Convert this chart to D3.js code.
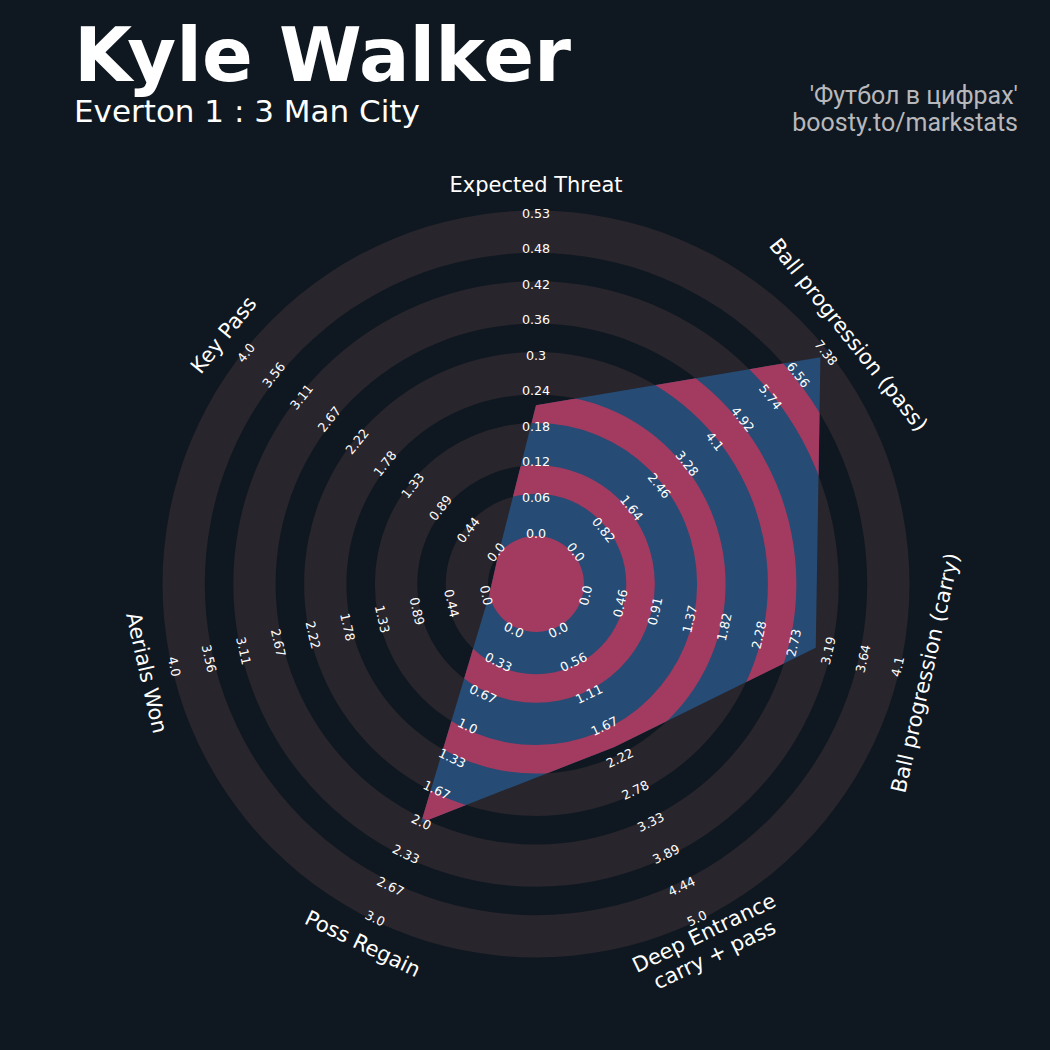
<!DOCTYPE html>
<html><head><meta charset="utf-8">
<script src="https://cdn.jsdelivr.net/npm/d3@7"></script>
<style>html,body{margin:0;padding:0;background:#0f1820;}</style>
</head><body><svg id="c" width="1050" height="1050"></svg>
<script>
// ---- data ----
const params = ["Expected Threat", "Ball progression (pass)", "Ball progression (carry)",
  "Deep Entrance\ncarry + pass", "Poss Regain", "Aerials Won", "Key Pass"];
const values = [0.215, 7.16, 3.01, 2.04, 2.0, 0, 0];
const maxRange = [0.535, 7.38, 4.1, 5.0, 3.0, 4.0, 4.0];
const labelsXT = ["0.0","0.06","0.12","0.18","0.24","0.3","0.36","0.42","0.48","0.53"];
const labelsPass = ["0.0","0.82","1.64","2.46","3.28","4.1","4.92","5.74","6.56","7.38"];
const labelsCarry = ["0.0","0.46","0.91","1.37","1.82","2.28","2.73","3.19","3.64","4.1"];
const labelsDeep = ["0.0","0.56","1.11","1.67","2.22","2.78","3.33","3.89","4.44","5.0"];
const labelsRegain = ["0.0","0.33","0.67","1.0","1.33","1.67","2.0","2.33","2.67","3.0"];
const labelsAerial = ["0.0","0.44","0.89","1.33","1.78","2.22","2.67","3.11","3.56","4.0"];
const labelsKey = ["0.0","0.44","0.89","1.33","1.78","2.22","2.67","3.11","3.56","4.0"];
const rangeLabels = [labelsXT, labelsPass, labelsCarry, labelsDeep, labelsRegain, labelsAerial, labelsKey];
const title = "Kyle Walker";
const subtitle = "Everton 1 : 3 Man City";
const credit = ["'Футбол в цифрах'", "boosty.to/markstats"];

// ---- layout ----
const cx = 536, cy = 584;
const R0 = 48, BAND = 42.3, GAP = 28.5, NB = 5;
const RMAX = R0 + NB * BAND + (NB - 1) * GAP;
const BG = "#0f1820", RING = "#28252c", BLUE = "#264b74", PINK = "#a33a5f";

const svg = d3.select("#c");
svg.append("rect").attr("width", 1050).attr("height", 1050).attr("fill", BG);

const n = params.length;
const angleDeg = i => 90 - i * 360 / n;
const rScales = maxRange.map(m => d3.scaleLinear().domain([0, m]).range([R0, RMAX]));
const pt = (i, r) => {
  const a = angleDeg(i) * Math.PI / 180;
  return [cx + r * Math.cos(a), cy - r * Math.sin(a)];
};
const textRot = i => {
  let rot = angleDeg(i) - 90;
  while (rot <= -180) rot += 360;
  while (rot > 180) rot -= 360;
  if (rot < -90) rot += 180;
  if (rot > 90) rot -= 180;
  return -rot;
};

// ring geometry
const bands = [], gaps = [[0, R0]];
let r = R0;
for (let k = 0; k < NB; k++) {
  bands.push([r, r + BAND]); r += BAND;
  if (k < NB - 1) { gaps.push([r, r + GAP]); r += GAP; }
}
const arc = d3.arc().startAngle(0).endAngle(2 * Math.PI);
const g = svg.append("g").attr("transform", `translate(${cx},${cy})`);
g.selectAll("path.band").data(bands).enter().append("path")
  .attr("d", d => arc({innerRadius: d[0], outerRadius: d[1]})).attr("fill", RING);

// radar polygon
const verts = values.map((v, i) => pt(i, rScales[i](v)));
const polyStr = verts.map(p => p.join(",")).join(" ");
svg.append("clipPath").attr("id", "pc").append("polygon").attr("points", polyStr);
svg.append("polygon").attr("points", polyStr).attr("fill", BLUE);
svg.append("g").attr("clip-path", "url(#pc)")
  .append("g").attr("transform", `translate(${cx},${cy})`)
  .selectAll("path").data(gaps).enter().append("path")
  .attr("d", d => arc({innerRadius: d[0], outerRadius: d[1]})).attr("fill", PINK);

// range labels
const labR = d3.range(10).map(k => 51 + k * (371 - 51) / 9);
rangeLabels.forEach((labs, i) => {
  labs.forEach((t, k) => {
    const p = pt(i, labR[k]);
    svg.append("text").attr("transform", `translate(${p[0]},${p[1]}) rotate(${textRot(i)})`)
      .attr("text-anchor", "middle").attr("dominant-baseline", "central")
      .attr("font-family", "DejaVu Sans").attr("font-size", 12.7).attr("fill", "#ffffff")
      .text(t);
  });
});

// param labels
params.forEach((name, i) => {
  const p = pt(i, 399.5);
  const lines = name.split("\n");
  const t = svg.append("text").attr("transform", `translate(${p[0]},${p[1]}) rotate(${textRot(i)})`)
    .attr("text-anchor", "middle").attr("dominant-baseline", "central")
    .attr("font-family", "DejaVu Sans").attr("font-size", 21).attr("fill", "#ffffff");
  lines.forEach((ln, j) => {
    t.append("tspan").attr("x", 0).attr("y", (j - (lines.length - 1) / 2) * 24).text(ln);
  });
});

// titles
svg.append("text").attr("x", 74).attr("y", 81).attr("font-family", "DejaVu Sans")
  .attr("font-weight", "bold").attr("font-size", 75).attr("fill", "#ffffff").text(title);
svg.append("text").attr("x", 74).attr("y", 121.5).attr("font-family", "DejaVu Sans")
  .attr("font-size", 31).attr("fill", "#ffffff").text(subtitle);
credit.forEach((c, j) => {
  svg.append("text").attr("x", 1018).attr("y", 104 + j * 27).attr("text-anchor", "end")
    .attr("font-family", "Roboto").attr("font-size", 25).attr("fill", "#b8b8bc").text(c);
});
</script></body></html>
